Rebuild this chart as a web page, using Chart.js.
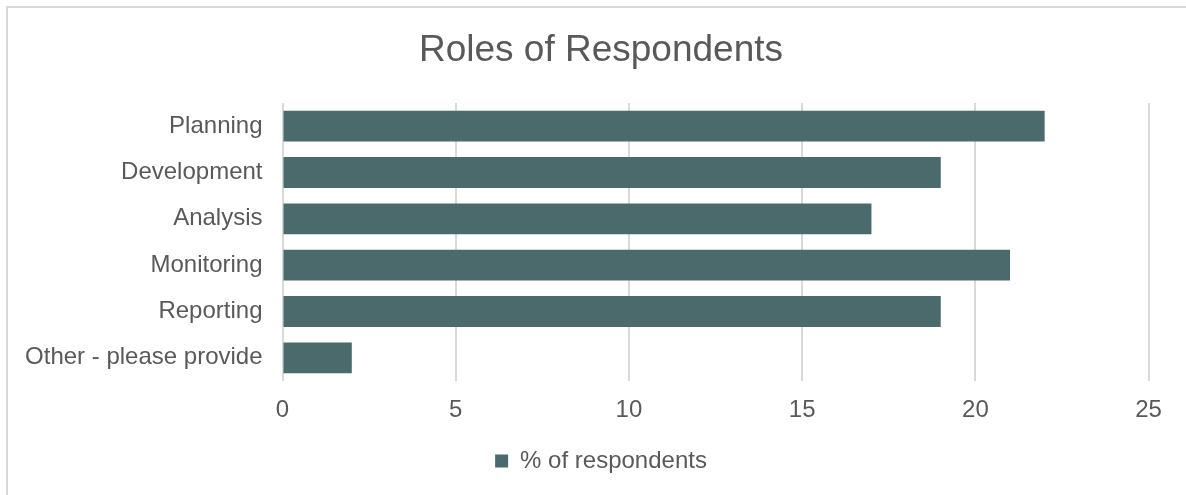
<!DOCTYPE html>
<html>
<head>
<meta charset="utf-8">
<script src="https://cdn.jsdelivr.net/npm/chart.js@4/dist/chart.umd.min.js"></script>
<style>
  html, body { margin: 0; padding: 0; background: #ffffff; overflow: hidden; }
  #frame { position: absolute; left: 6px; top: 6px; width: 1200px; height: 520px; border: 2px solid #d9d9d9; box-sizing: border-box; }
  #wrap { position: absolute; left: 0; top: 0; width: 1186px; height: 495px; }
</style>
</head>
<body>
<div id="frame"></div>
<div id="wrap"><canvas id="c" width="1186" height="495"></canvas></div>
<script>
const chartTitle = 'Roles of Respondents';
const categories = ['Planning', 'Development', 'Analysis', 'Monitoring', 'Reporting', 'Other - please provide'];
const seriesName = '% of respondents';
const seriesValues = [22, 19, 17, 21, 19, 2];
const xTicks = [0, 5, 10, 15, 20, 25];

const textColor = '#595959';
const fontFamily = '"Liberation Sans", Arial, sans-serif';

new Chart(document.getElementById('c'), {
  type: 'bar',
  data: {
    labels: categories,
    datasets: [{
      label: seriesName,
      data: seriesValues,
      backgroundColor: '#4A6A6B',
      borderWidth: 0,
      barPercentage: 1,
      categoryPercentage: 0.667
    }]
  },
  options: {
    indexAxis: 'y',
    responsive: false,
    animation: false,
    devicePixelRatio: 1,
    layout: { padding: { left: 16, right: 0, top: 0, bottom: 12 } },
    plugins: {
      title: {
        display: true,
        text: chartTitle,
        color: textColor,
        font: { family: fontFamily, size: 37, weight: 'normal', lineHeight: 1.2 },
        padding: { top: 29, bottom: 29.6 }
      },
      legend: {
        display: true,
        position: 'bottom',
        labels: {
          color: textColor,
          font: { family: fontFamily, size: 24 },
          boxWidth: 13,
          boxHeight: 13,
          padding: 10
        }
      },
      tooltip: { enabled: false }
    },
    scales: {
      x: {
        type: 'linear',
        min: xTicks[0],
        max: xTicks[xTicks.length - 1],
        afterBuildTicks: (s) => { s.ticks = xTicks.map(v => ({ value: v })); },
        grid: { color: '#d9d9d9', lineWidth: 2, drawTicks: false },
        border: { display: false },
        ticks: {
          color: textColor,
          font: { family: fontFamily, size: 24 },
          padding: 15
        },
        afterFit: (s) => { s.height = 58; }
      },
      y: {
        type: 'category',
        grid: { display: false, drawTicks: false },
        border: { display: false },
        ticks: {
          color: textColor,
          font: { family: fontFamily, size: 24 },
          padding: 20,
          autoSkip: false
        },
        afterFit: (s) => { s.width = 266.5; }
      },
      yRight: {
        type: 'category',
        position: 'right',
        display: true,
        grid: { display: false, drawTicks: false },
        border: { display: false },
        ticks: { display: false },
        afterFit: (s) => { s.width = 37.4; }
      }
    }
  }
});
</script>
</body>
</html>
